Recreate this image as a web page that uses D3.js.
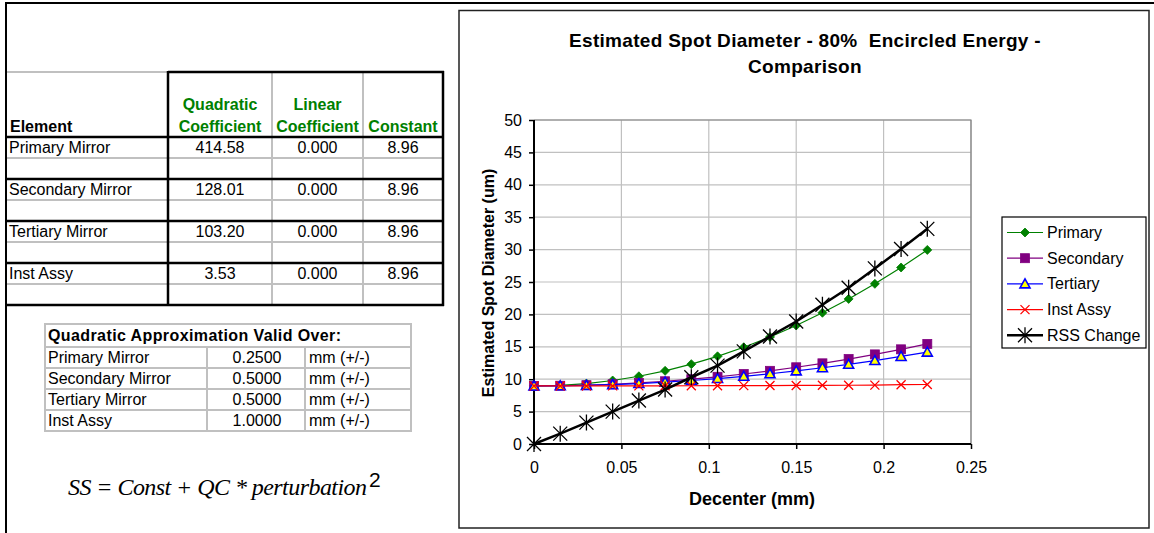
<!DOCTYPE html>
<html>
<head>
<meta charset="utf-8">
<script src="https://cdn.jsdelivr.net/npm/d3@7"></script>
<style>
  body { margin: 0; background: #fff; }
  svg { display: block; font-family: "Liberation Sans", Arial, sans-serif; }
</style>
</head>
<body>
<svg id="sheet" width="1154" height="533"></svg>
<script>
// ---- Coefficient table ----
const elements = ["Primary Mirror", "Secondary Mirror", "Tertiary Mirror", "Inst Assy"];
const quadCoef = ["414.58", "128.01", "103.20", "3.53"];
const linCoef = ["0.000", "0.000", "0.000", "0.000"];
const constTerm = ["8.96", "8.96", "8.96", "8.96"];

// ---- Validity range table ----
const validRange = ["0.2500", "0.5000", "0.5000", "1.0000"];

// ---- Spot diameter series (um) vs decenter (mm) ----
const decenter = [0, 0.015, 0.03, 0.045, 0.06, 0.075, 0.09, 0.105, 0.12, 0.135, 0.15, 0.165, 0.18, 0.195, 0.21, 0.225];
const primary   = [8.96, 9.05, 9.33, 9.80, 10.45, 11.29, 12.32, 13.53, 14.93, 16.52, 18.29, 20.25, 22.39, 24.72, 27.24, 29.95];
const secondary = [8.96, 8.99, 9.08, 9.22, 9.42, 9.68, 10.00, 10.37, 10.80, 11.29, 11.84, 12.45, 13.11, 13.83, 14.61, 15.44];
const tertiary  = [8.96, 8.98, 9.05, 9.17, 9.33, 9.54, 9.80, 10.10, 10.45, 10.84, 11.28, 11.77, 12.30, 12.88, 13.51, 14.18];
const instAssy  = [8.96, 8.96, 8.96, 8.97, 8.97, 8.98, 8.99, 9.00, 9.01, 9.02, 9.04, 9.06, 9.07, 9.09, 9.15, 9.18];
const rssChange = [0, 1.6, 3.3, 5.0, 6.7, 8.4, 10.3, 12.1, 14.3, 16.6, 18.9, 21.5, 24.1, 27.1, 30.1, 33.2];

const seriesNames = ["Primary", "Secondary", "Tertiary", "Inst Assy", "RSS Change"];
const xTicks = [0, 0.05, 0.1, 0.15, 0.2, 0.25];
const yTicks = [0, 5, 10, 15, 20, 25, 30, 35, 40, 45, 50];

const svg = d3.select("#sheet");
const GREEN_HEAD = "#008000";
const GRID_GRAY = "#c0c0c0";
const FS = 16;

// ---------- Sheet frame ----------
svg.append("line").attr("x1", 5).attr("x2", 1154).attr("y1", 3).attr("y2", 3)
  .attr("stroke", "#000").attr("stroke-width", 2);
svg.append("line").attr("x1", 6).attr("x2", 6).attr("y1", 2).attr("y2", 533)
  .attr("stroke", "#000").attr("stroke-width", 2);

// ---------- Coefficient table ----------
const t1 = svg.append("g");
const t1Cols = [7, 168, 272, 363, 443];
const t1Rows = [72, 137, 158, 179, 200, 221, 242, 263, 284, 305];

// thin gray grid
t1Rows.forEach(y => {
  t1.append("line").attr("x1", 7).attr("x2", 443).attr("y1", y).attr("y2", y)
    .attr("stroke", GRID_GRAY).attr("stroke-width", 2);
});
t1Cols.slice(2, 4).forEach(x => {
  t1.append("line").attr("x1", x).attr("x2", x).attr("y1", 72).attr("y2", 305)
    .attr("stroke", GRID_GRAY).attr("stroke-width", 2);
});
// heavy borders
[137, 179, 221, 263, 305].forEach(y => {
  t1.append("line").attr("x1", 6).attr("x2", 444).attr("y1", y).attr("y2", y)
    .attr("stroke", "#000").attr("stroke-width", 2.5);
});
t1.append("line").attr("x1", 168).attr("x2", 444).attr("y1", 72).attr("y2", 72)
  .attr("stroke", "#000").attr("stroke-width", 2.5);
[168, 443].forEach(x => {
  t1.append("line").attr("x1", x).attr("x2", x).attr("y1", 71).attr("y2", 306)
    .attr("stroke", "#000").attr("stroke-width", 2.5);
});

// header
const hdr = t1.append("g").attr("font-weight", "bold").attr("font-size", FS);
hdr.append("text").attr("x", 10).attr("y", 132).attr("fill", "#000").text("Element");
const colCenters = [220, 317.5, 403];
[["Quadratic", "Coefficient"], ["Linear", "Coefficient"], [null, "Constant"]].forEach((lines, i) => {
  lines.forEach((s, j) => {
    if (!s) return;
    hdr.append("text").attr("x", colCenters[i]).attr("y", j === 0 ? 110 : 132)
      .attr("text-anchor", "middle").attr("fill", GREEN_HEAD).text(s);
  });
});

// body rows
elements.forEach((name, i) => {
  const y = t1Rows[1 + i * 2] + 15.5;
  t1.append("text").attr("x", 9).attr("y", y).attr("font-size", FS).text(name);
  [quadCoef[i], linCoef[i], constTerm[i]].forEach((v, j) => {
    t1.append("text").attr("x", colCenters[j]).attr("y", y).attr("font-size", FS)
      .attr("text-anchor", "middle").text(v);
  });
});

// ---------- Validity table ----------
const t2 = svg.append("g");
const t2Rows = [324, 347, 368, 389, 410, 431];
t2Rows.forEach(y => {
  t2.append("line").attr("x1", 44).attr("x2", 412).attr("y1", y).attr("y2", y)
    .attr("stroke", GRID_GRAY).attr("stroke-width", 2);
});
[45, 411].forEach(x => {
  t2.append("line").attr("x1", x).attr("x2", x).attr("y1", 324).attr("y2", 431)
    .attr("stroke", GRID_GRAY).attr("stroke-width", 2);
});
[207, 305].forEach(x => {
  t2.append("line").attr("x1", x).attr("x2", x).attr("y1", 347).attr("y2", 431)
    .attr("stroke", GRID_GRAY).attr("stroke-width", 2);
});
t2.append("text").attr("x", 48).attr("y", 341).attr("font-size", FS).attr("font-weight", "bold")
  .attr("letter-spacing", 0.4).text("Quadratic Approximation Valid Over:");
elements.forEach((name, i) => {
  const y = t2Rows[1 + i] + 15.5;
  t2.append("text").attr("x", 48).attr("y", y).attr("font-size", FS).text(name);
  t2.append("text").attr("x", 257).attr("y", y).attr("font-size", FS).attr("text-anchor", "middle").text(validRange[i]);
  t2.append("text").attr("x", 309).attr("y", y).attr("font-size", FS).text("mm (+/-)");
});

// ---------- Formula ----------
svg.append("text").attr("x", 68).attr("y", 495)
  .attr("font-family", "'Liberation Serif', 'Times New Roman', serif").attr("font-size", 24)
  .attr("font-style", "italic").attr("textLength", 299).attr("lengthAdjust", "spacing")
  .text("SS = Const + QC * perturbation");
svg.append("text").attr("x", 369).attr("y", 487).attr("font-size", 21).text("2");

// ---------- Chart ----------
svg.append("rect").attr("x", 459).attr("y", 10.5).attr("width", 690).attr("height", 517.5)
  .attr("fill", "#fff").attr("stroke", "#222").attr("stroke-width", 1.5);

const title = svg.append("g").attr("font-weight", "bold").attr("font-size", 19)
  .attr("letter-spacing", 0.3).attr("text-anchor", "middle");
title.append("text").attr("x", 805).attr("y", 47).attr("xml:space", "preserve")
  .text("Estimated Spot Diameter - 80%  Encircled Energy -");
title.append("text").attr("x", 805).attr("y", 73).text("Comparison");

const x = d3.scaleLinear().domain([0, 0.25]).range([534, 971]);
const y = d3.scaleLinear().domain([0, 50]).range([444, 120]);

// gridlines
const grid = svg.append("g");
grid.selectAll("line.h").data(yTicks.slice(1)).join("line")
  .attr("x1", x(0)).attr("x2", x(0.25)).attr("y1", d => y(d)).attr("y2", d => y(d))
  .attr("stroke", GRID_GRAY).attr("stroke-width", 1.2);
grid.selectAll("line.v").data(xTicks.slice(1)).join("line")
  .attr("x1", d => x(d)).attr("x2", d => x(d)).attr("y1", y(0)).attr("y2", y(50))
  .attr("stroke", GRID_GRAY).attr("stroke-width", 1.2);
// plot area top/right frame
grid.append("path").attr("d", `M${x(0)},${y(50)}H${x(0.25)}V${y(0)}`)
  .attr("fill", "none").attr("stroke", "#808080").attr("stroke-width", 1.2);

// axes
const xAxis = svg.append("g").attr("transform", `translate(0,${y(0)})`)
  .call(d3.axisBottom(x).tickValues(xTicks).tickSize(5).tickPadding(13).tickFormat(d => String(d)));
const yAxis = svg.append("g").attr("transform", `translate(${x(0)},0)`)
  .call(d3.axisLeft(y).tickValues(yTicks).tickSize(5).tickPadding(7).tickFormat(d => String(d)));
[xAxis, yAxis].forEach(a => {
  a.select(".domain").attr("stroke", "#000").attr("stroke-width", 2);
  a.selectAll(".tick line").attr("stroke", "#000").attr("stroke-width", 1.5);
  a.selectAll(".tick text").attr("font-size", FS).attr("fill", "#000")
    .attr("font-family", "'Liberation Sans', Arial, sans-serif");
});
xAxis.select(".domain").attr("d", `M${x(0)},0H${x(0.25)}`);
yAxis.select(".domain").attr("d", `M0,${y(0)}V${y(50)}`);

svg.append("text").attr("x", 752).attr("y", 505).attr("text-anchor", "middle")
  .attr("font-weight", "bold").attr("font-size", 18).text("Decenter (mm)");
svg.append("text").attr("transform", "translate(494,283) rotate(-90)").attr("text-anchor", "middle")
  .attr("font-weight", "bold").attr("font-size", FS).text("Estimated Spot Diameter (um)");

// marker painters
function drawMarker(g, kind, cx, cy) {
  if (kind === "diamond") {
    g.append("path").attr("d", `M${cx},${cy - 4.5}L${cx + 4.5},${cy}L${cx},${cy + 4.5}L${cx - 4.5},${cy}Z`)
      .attr("fill", "#008000").attr("stroke", "#008000").attr("stroke-width", 0.8);
  } else if (kind === "square") {
    g.append("rect").attr("x", cx - 4.5).attr("y", cy - 4.5).attr("width", 9).attr("height", 9)
      .attr("fill", "#800080").attr("stroke", "#800080").attr("stroke-width", 0.8);
  } else if (kind === "triangle") {
    g.append("path").attr("d", `M${cx},${cy - 5}L${cx + 5},${cy + 4}L${cx - 5},${cy + 4}Z`)
      .attr("fill", "#ffff00").attr("stroke", "#0000ff").attr("stroke-width", 1.6);
  } else if (kind === "x") {
    g.append("path").attr("d", `M${cx - 4.5},${cy - 4.5}L${cx + 4.5},${cy + 4.5}M${cx - 4.5},${cy + 4.5}L${cx + 4.5},${cy - 4.5}`)
      .attr("stroke", "#ff0000").attr("stroke-width", 1.3);
  } else if (kind === "star") {
    g.append("path").attr("d", `M${cx - 7},${cy - 7}L${cx + 7},${cy + 7}M${cx - 7},${cy + 7}L${cx + 7},${cy - 7}M${cx},${cy - 8}V${cy + 8}`)
      .attr("stroke", "#000").attr("stroke-width", 1.3);
  }
}

const series = [
  { name: seriesNames[0], values: primary,   color: "#008000", width: 1.2, marker: "diamond" },
  { name: seriesNames[1], values: secondary, color: "#800080", width: 1.2, marker: "square" },
  { name: seriesNames[2], values: tertiary,  color: "#0000ff", width: 1.2, marker: "triangle" },
  { name: seriesNames[3], values: instAssy,  color: "#ff0000", width: 1.2, marker: "x" },
  { name: seriesNames[4], values: rssChange, color: "#000000", width: 2.5, marker: "star" }
];

const line = d3.line().x(d => x(d[0])).y(d => y(d[1]));
const plot = svg.append("g");
series.forEach(s => {
  const pts = decenter.map((d, i) => [d, s.values[i]]);
  plot.append("path").attr("d", line(pts)).attr("fill", "none")
    .attr("stroke", s.color).attr("stroke-width", s.width);
  const mg = plot.append("g");
  pts.forEach(p => drawMarker(mg, s.marker, x(p[0]), y(p[1])));
});

// legend
const lg = svg.append("g");
lg.append("rect").attr("x", 1002).attr("y", 217).attr("width", 144).attr("height", 131)
  .attr("fill", "#fff").attr("stroke", "#000").attr("stroke-width", 1.2);
series.forEach((s, i) => {
  const cy = 232.5 + i * 25.7;
  lg.append("line").attr("x1", 1007).attr("x2", 1043).attr("y1", cy).attr("y2", cy)
    .attr("stroke", s.color).attr("stroke-width", s.width);
  drawMarker(lg, s.marker, 1025, cy);
  lg.append("text").attr("x", 1047).attr("y", cy + 5.5).attr("font-size", FS).text(s.name);
});
</script>
</body>
</html>
